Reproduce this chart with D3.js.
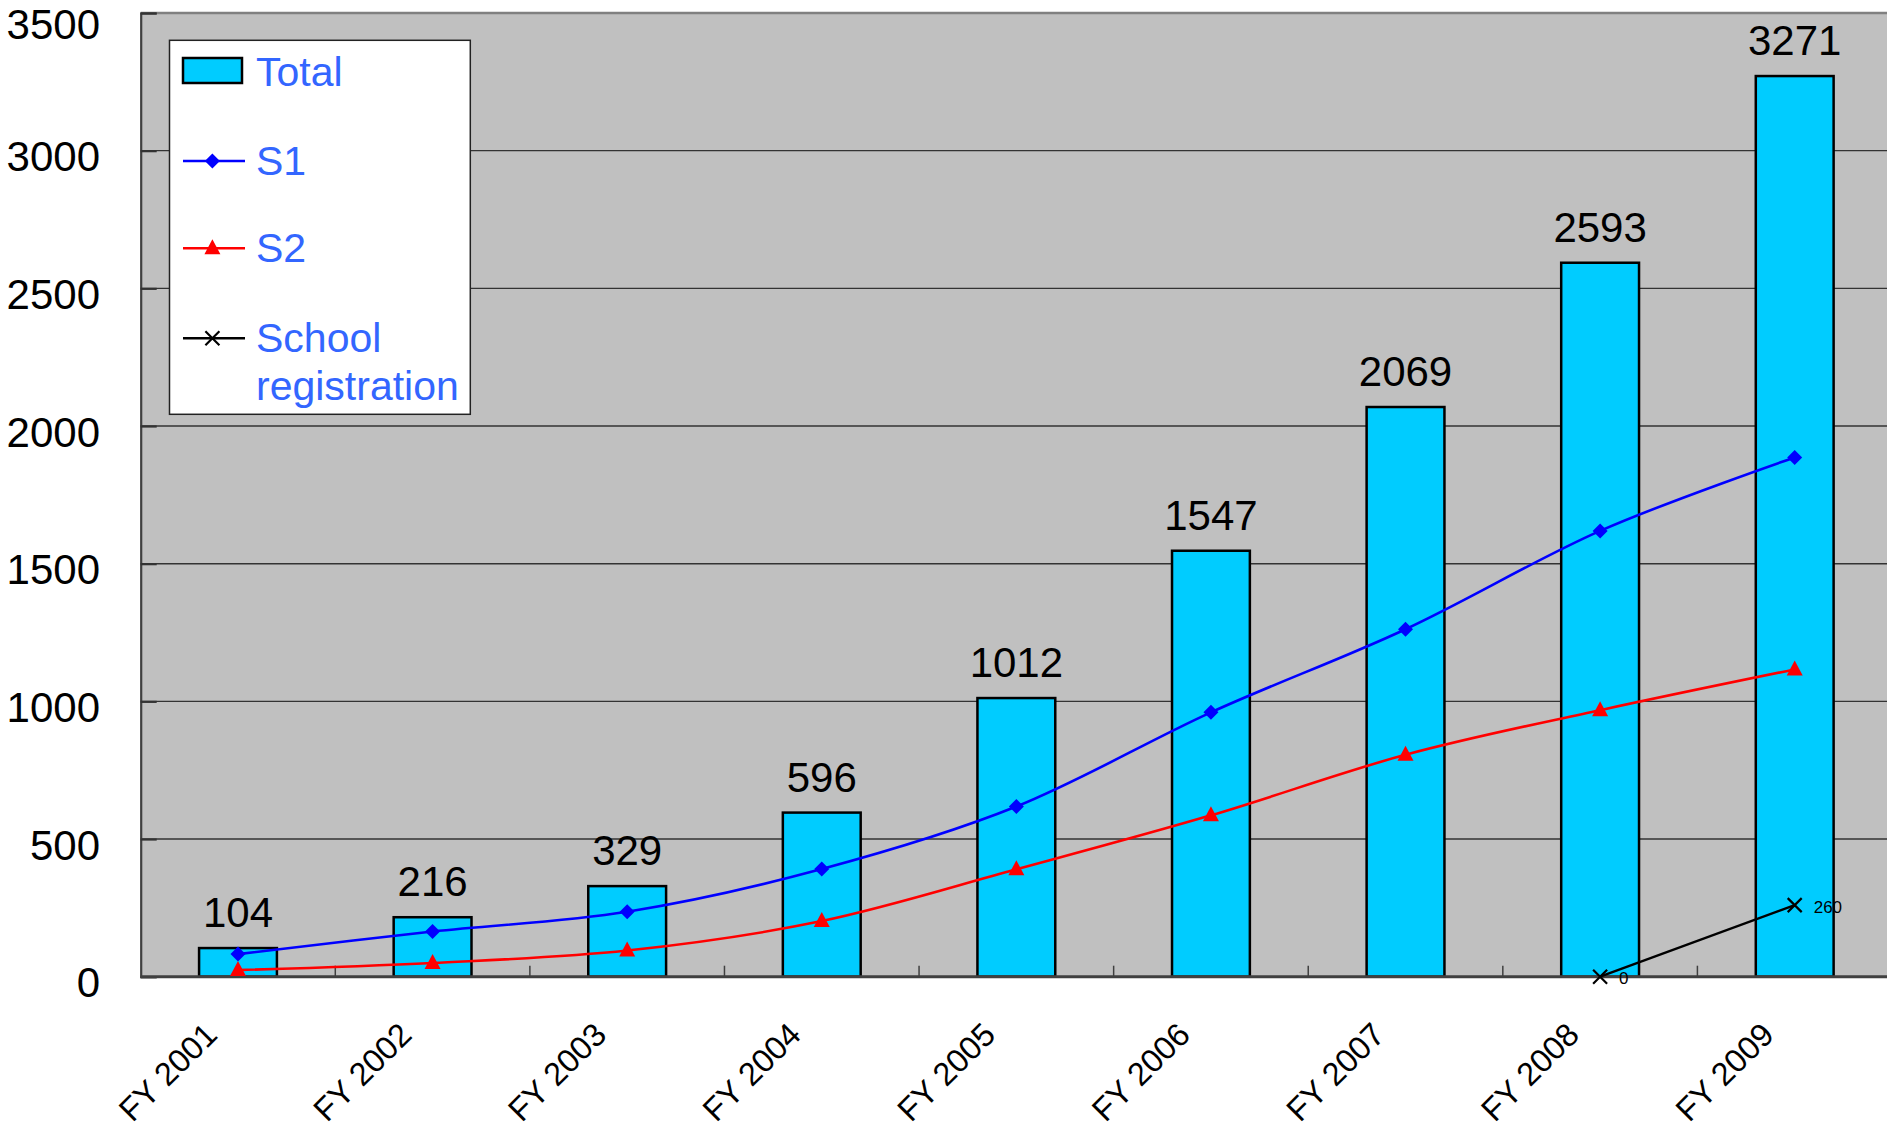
<!DOCTYPE html>
<html>
<head>
<meta charset="utf-8">
<script src="https://cdn.jsdelivr.net/npm/d3@7"></script>
<style>
  html, body { margin: 0; padding: 0; background: #fff; }
  svg { display: block; font-family: "Liberation Sans", Arial, sans-serif; }
</style>
</head>
<body>
<svg id="chart" width="1887" height="1130"></svg>
<script>
// ---- data ----
const categories = ["FY 2001", "FY 2002", "FY 2003", "FY 2004", "FY 2005", "FY 2006", "FY 2007", "FY 2008", "FY 2009"];
const totals = [104, 216, 329, 596, 1012, 1547, 2069, 2593, 3271];
const s1 = [82, 164, 236, 391, 618, 960, 1262, 1619, 1886];
const s2 = [24, 50, 95, 202, 390, 586, 806, 968, 1116];
const school = [null, null, null, null, null, null, null, 0, 260];
const yTicks = [0, 500, 1000, 1500, 2000, 2500, 3000, 3500];
const legendLabels = ["Total", "S1", "S2", ["School", "registration"]];

// ---- layout ----
const W = 1887, H = 1130;
const plot = { left: 140.7, right: 1892, top: 13, bottom: 976.7 };

const svg = d3.select("#chart");
svg.append("rect").attr("width", W).attr("height", H).attr("fill", "#fff");

const x = d3.scaleBand().domain(categories).range([plot.left, plot.right])
  .paddingInner(0.6).paddingOuter(0.3);
const y = d3.scaleLinear().domain([0, 3500]).range([plot.bottom, plot.top]);
const cx = c => x(c) + x.bandwidth() / 2;

// plot background
svg.append("rect")
  .attr("x", plot.left).attr("y", y(3500))
  .attr("width", W - plot.left).attr("height", y(0) - y(3500))
  .attr("fill", "#C0C0C0");

// gridlines
svg.append("g").selectAll("line")
  .data(yTicks.filter(t => t > 0 && t < 3500))
  .join("line")
  .attr("x1", plot.left).attr("x2", W)
  .attr("y1", d => y(d)).attr("y2", d => y(d))
  .attr("stroke", "#333").attr("stroke-width", 1.4);

// top border
svg.append("line")
  .attr("x1", plot.left).attr("x2", W)
  .attr("y1", y(3500)).attr("y2", y(3500))
  .attr("stroke", "#808080").attr("stroke-width", 2.5);

// y axis
const yAxis = svg.append("g")
  .attr("transform", `translate(${plot.left},0)`)
  .call(d3.axisLeft(y).tickValues(yTicks).tickFormat(d3.format("d")).tickSize(-16).tickPadding(40.7));
yAxis.select(".domain").attr("stroke", "#404040").attr("stroke-width", 2.2);
yAxis.selectAll(".tick line").attr("stroke", "#333").attr("stroke-width", 2.2);
yAxis.selectAll(".tick text")
  .attr("font-size", 42).attr("fill", "#000")
  .attr("dy", d => d === 3500 ? "0.6em" : "0.48em")
  .style("font-family", "'Liberation Sans', Arial, sans-serif");

// bars
svg.append("g").selectAll("rect")
  .data(categories)
  .join("rect")
  .attr("x", d => x(d))
  .attr("y", (d, i) => y(totals[i]))
  .attr("width", x.bandwidth())
  .attr("height", (d, i) => y(0) - y(totals[i]))
  .attr("fill", "#00CCFF").attr("stroke", "#000").attr("stroke-width", 2.5);

// bar value labels
svg.append("g").selectAll("text")
  .data(categories)
  .join("text")
  .attr("x", d => cx(d))
  .attr("y", (d, i) => y(totals[i]) - 21)
  .attr("text-anchor", "middle")
  .attr("font-size", 42).attr("fill", "#000")
  .text((d, i) => totals[i]);

// x axis baseline + category boundary ticks
const step = x.step();
const boundaries = categories.map(c => x(c) - step * x.paddingInner() / 2);
svg.append("g").selectAll("line")
  .data(boundaries.slice(1))
  .join("line")
  .attr("x1", d => d).attr("x2", d => d)
  .attr("y1", y(0)).attr("y2", y(0) - 11)
  .attr("stroke", "#404040").attr("stroke-width", 1.5);

const xAxis = svg.append("g")
  .attr("transform", `translate(0,${y(0)})`)
  .call(d3.axisBottom(x).tickSize(0));
xAxis.select(".domain").remove();
xAxis.selectAll(".tick text")
  .attr("x", 0).attr("y", 0).attr("dy", 0)
  .attr("text-anchor", "end")
  .attr("transform", "translate(-19,60) rotate(-45)")
  .attr("font-size", 32.5).attr("fill", "#000")
  .style("font-family", "'Liberation Sans', Arial, sans-serif");

svg.append("line")
  .attr("x1", plot.left).attr("x2", W)
  .attr("y1", y(0)).attr("y2", y(0))
  .attr("stroke", "#404040").attr("stroke-width", 3);

// ---- marker shapes ----
function diamondPath(r) { return `M0,${-r}L${r},0L0,${r}L${-r},0Z`; }
function trianglePath(w, h) { return `M0,${-h * 0.6}L${w / 2},${h * 0.4}L${-w / 2},${h * 0.4}Z`; }
function crossPath(r) { return `M${-r},${-r}L${r},${r}M${r},${-r}L${-r},${r}`; }

// lines
const lineGen = d3.line()
  .defined(d => d.v !== null)
  .x(d => cx(d.c)).y(d => y(d.v))
  .curve(d3.curveCardinal.tension(0));

const s1Data = categories.map((c, i) => ({ c, v: s1[i] }));
const s2Data = categories.map((c, i) => ({ c, v: s2[i] }));
const schoolData = categories.map((c, i) => ({ c, v: school[i] })).filter(d => d.v !== null);

svg.append("path").datum(s1Data).attr("d", lineGen)
  .attr("fill", "none").attr("stroke", "#0000FF").attr("stroke-width", 2.6);
svg.append("path").datum(s2Data).attr("d", lineGen)
  .attr("fill", "none").attr("stroke", "#FF0000").attr("stroke-width", 2.6);
svg.append("path").datum(schoolData).attr("d", d3.line().x(d => cx(d.c)).y(d => y(d.v)))
  .attr("fill", "none").attr("stroke", "#000").attr("stroke-width", 2.4);

svg.append("g").selectAll("path").data(s1Data).join("path")
  .attr("transform", d => `translate(${cx(d.c)},${y(d.v)})`)
  .attr("d", diamondPath(7.5)).attr("fill", "#0000FF");
svg.append("g").selectAll("path").data(s2Data).join("path")
  .attr("transform", d => `translate(${cx(d.c)},${y(d.v)})`)
  .attr("d", trianglePath(16, 15)).attr("fill", "#FF0000");
svg.append("g").selectAll("path").data(schoolData).join("path")
  .attr("transform", d => `translate(${cx(d.c)},${y(d.v)})`)
  .attr("d", crossPath(7)).attr("fill", "none").attr("stroke", "#000").attr("stroke-width", 2.2);
svg.append("g").selectAll("text").data(schoolData).join("text")
  .attr("x", d => cx(d.c) + 19).attr("y", d => y(d.v) + 7.7)
  .attr("font-size", 17).attr("fill", "#000")
  .text(d => d.v);

// ---- legend ----
const lg = svg.append("g");
lg.append("rect")
  .attr("x", 169.5).attr("y", 40.3).attr("width", 300.8).attr("height", 374)
  .attr("fill", "#fff").attr("stroke", "#222").attr("stroke-width", 1.5);
const legendColor = "#3366FF";
const lfs = 41;
// Total
lg.append("rect").attr("x", 183).attr("y", 58).attr("width", 59).attr("height", 25)
  .attr("fill", "#00CCFF").attr("stroke", "#000").attr("stroke-width", 2.5);
lg.append("text").attr("x", 256).attr("y", 85.7).attr("font-size", lfs).attr("fill", legendColor).text(legendLabels[0]);
// S1
lg.append("line").attr("x1", 183).attr("x2", 245).attr("y1", 161).attr("y2", 161)
  .attr("stroke", "#0000FF").attr("stroke-width", 2.6);
lg.append("path").attr("transform", "translate(212.4,161)").attr("d", diamondPath(7.5)).attr("fill", "#0000FF");
lg.append("text").attr("x", 256).attr("y", 175).attr("font-size", lfs).attr("fill", legendColor).text(legendLabels[1]);
// S2
lg.append("line").attr("x1", 183).attr("x2", 245).attr("y1", 248.3).attr("y2", 248.3)
  .attr("stroke", "#FF0000").attr("stroke-width", 2.6);
lg.append("path").attr("transform", "translate(212.4,248.3)").attr("d", trianglePath(16, 15)).attr("fill", "#FF0000");
lg.append("text").attr("x", 256).attr("y", 262.3).attr("font-size", lfs).attr("fill", legendColor).text(legendLabels[2]);
// School registration
lg.append("line").attr("x1", 183).attr("x2", 245).attr("y1", 338.3).attr("y2", 338.3)
  .attr("stroke", "#000").attr("stroke-width", 2.4);
lg.append("path").attr("transform", "translate(212.4,338.3)").attr("d", crossPath(7))
  .attr("fill", "none").attr("stroke", "#000").attr("stroke-width", 2.2);
lg.append("text").attr("x", 256).attr("y", 351.7).attr("font-size", lfs).attr("fill", legendColor).text(legendLabels[3][0]);
lg.append("text").attr("x", 256).attr("y", 400).attr("font-size", lfs).attr("fill", legendColor).text(legendLabels[3][1]);
</script>
</body>
</html>
